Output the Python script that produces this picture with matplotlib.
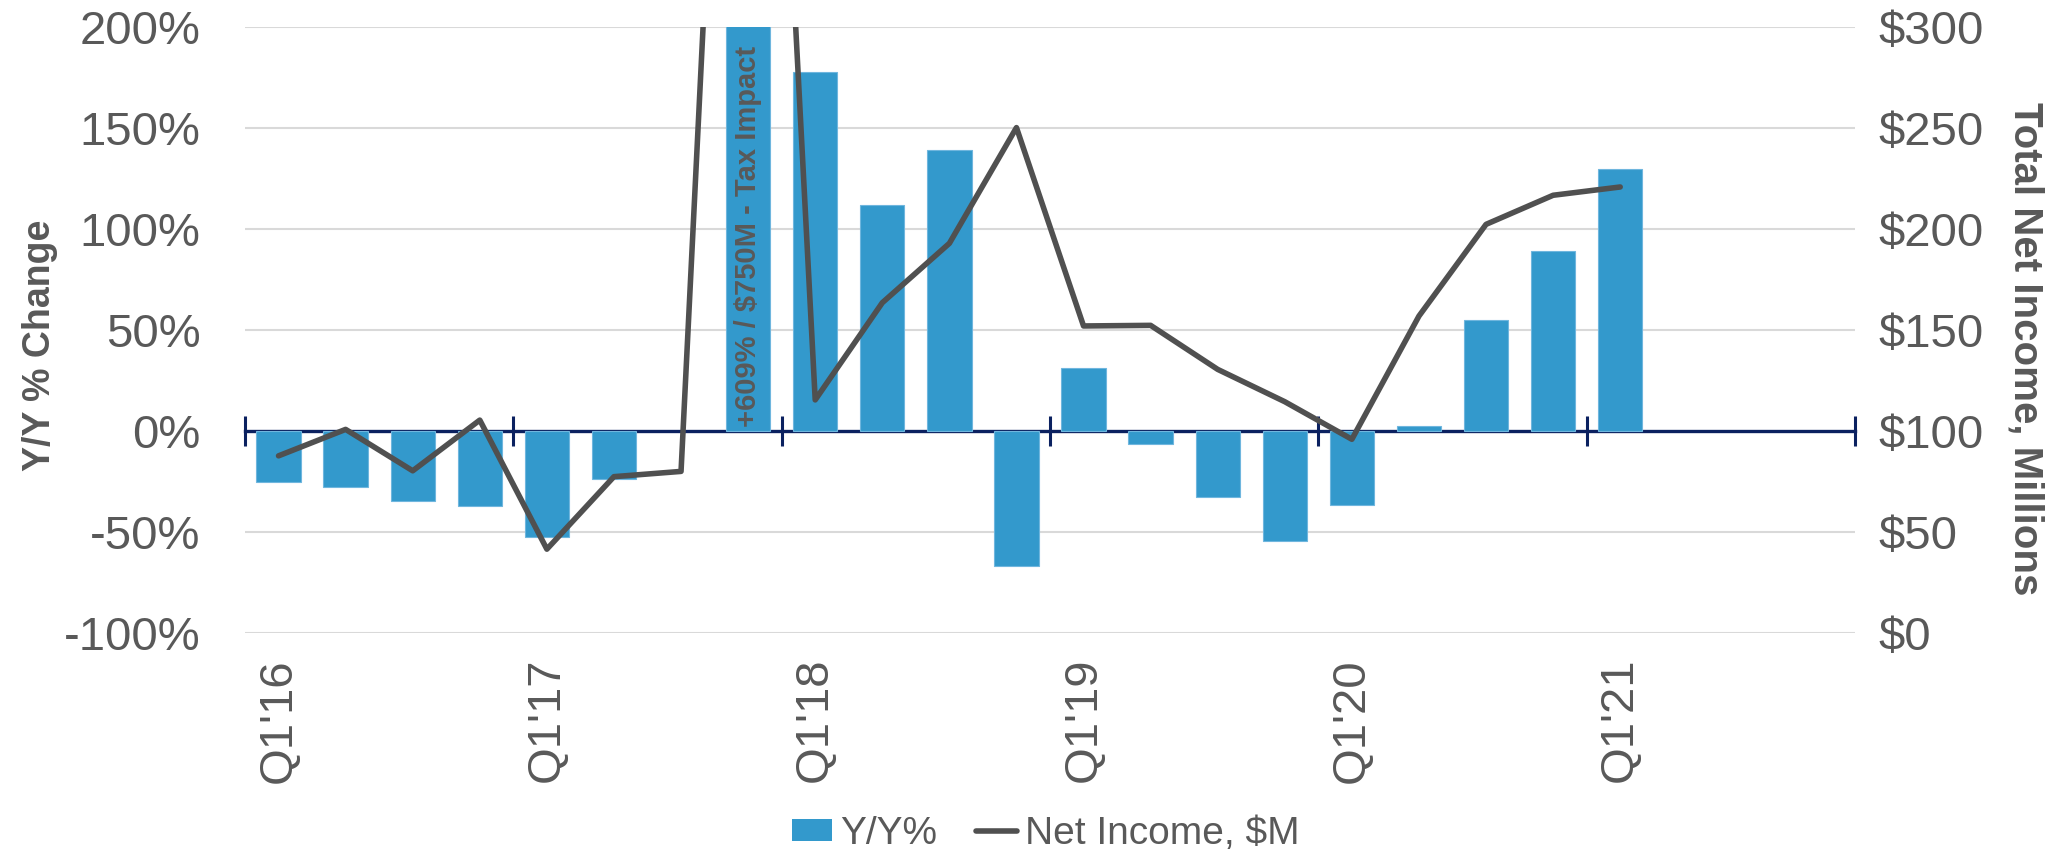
import numpy as np
import matplotlib
matplotlib.use("Agg")
import matplotlib.pyplot as plt
from matplotlib.patches import Patch
from matplotlib.lines import Line2D
from matplotlib.ticker import FuncFormatter, FixedLocator

plt.rcParams['font.family'] = ['Liberation Sans', 'DejaVu Sans']

# ---- data ----
quarters = ["Q1'16", "Q2'16", "Q3'16", "Q4'16",
            "Q1'17", "Q2'17", "Q3'17", "Q4'17",
            "Q1'18", "Q2'18", "Q3'18", "Q4'18",
            "Q1'19", "Q2'19", "Q3'19", "Q4'19",
            "Q1'20", "Q2'20", "Q3'20", "Q4'20",
            "Q1'21", "Q2'21", "Q3'21", "Q4'21"]
yoy_pct = [-25.4, -27.9, -34.9, -37.0,
           -52.3, -23.6, np.nan, 609.0,
           177.7, 111.9, 139.3, -66.8,
           31.2, -6.6, -32.5, -54.5,
           -36.8, 2.5, 55.0, 89.1,
           129.7]
net_income = [87.7, 100.8, 80.3, 105.4,
              41.5, 77.4, 80.0, 750.0,
              115.4, 163.5, 192.9, 250.2,
              152.0, 152.3, 130.5, 114.5,
              95.9, 156.9, 202.3, 216.7,
              220.8]
shown_labels = ["Q1'16", "Q1'17", "Q1'18", "Q1'19", "Q1'20", "Q1'21"]
annotation = "+609% / $750M - Tax Impact"
annot_quarter = "Q4'17"

# ---- style ----
BAR = '#3399CC'
LINE = '#505050'
NAVY = '#0B2160'
TXT = '#595959'
GRID = '#D9D9D9'

W, H = 2066, 857
fig = plt.figure(figsize=(W / 100, H / 100), dpi=100)
left, right = 245 / W, 1855 / W
top, bottom = 1 - 27 / H, 1 - 633 / H
ax = fig.add_axes([left, bottom, right - left, top - bottom])

x = np.arange(len(yoy_pct))
ax.bar(x, yoy_pct, width=0.66, color=BAR, edgecolor='#6FB6DE', linewidth=0.8, zorder=2)

ax.set_xlim(-0.5, len(quarters) - 0.5)
ax.set_ylim(-100, 200)
ax.set_yticks(np.arange(-100, 201, 50))
ax.yaxis.set_major_formatter(FuncFormatter(lambda v, p: f"{v:.0f}%"))
for v in np.arange(-100, 201, 50):
    if v != 0:
        ax.axhline(v, color=GRID, lw=1.5, zorder=0)

label_pos = [quarters.index(q) for q in shown_labels]
ax.set_xticks(label_pos)
ax.set_xticklabels(shown_labels, rotation=90, va='top', ha='center')
ax.tick_params(axis='x', length=0, pad=18, labelsize=34, labelcolor=TXT)
ax.tick_params(axis='y', length=0, pad=32, labelsize=34, labelcolor=TXT)
for s in ax.spines.values():
    s.set_visible(False)

# zero axis with boundary ticks
sec = ax.secondary_xaxis(1 / 3)
bounds = np.arange(-0.5, len(quarters), 4)
sec.xaxis.set_major_locator(FixedLocator(bounds))
sec.tick_params(axis='x', direction='inout', length=22, width=2.2, color=NAVY,
                labelbottom=False, labeltop=False, labelsize=1)
sec.spines['bottom'].set_color(NAVY)
sec.spines['bottom'].set_linewidth(2.4)
for k in ['top', 'left', 'right']:
    sec.spines[k].set_visible(False)

# annotation inside clipped bar
ai = quarters.index(annot_quarter)
ax.text(ai, 2, annotation, rotation=90, ha='center', va='bottom',
        fontsize=21, fontweight='bold', color=TXT, zorder=3)

# right axis with line
ax2 = ax.twinx()
ax2.plot(np.arange(len(net_income)), net_income, color=LINE, lw=4,
         solid_joinstyle='round', solid_capstyle='round', zorder=4)
ax2.set_ylim(0, 300)
ax2.set_yticks(np.arange(0, 301, 50))
ax2.yaxis.set_major_formatter(FuncFormatter(lambda v, p: f"${v:.0f}"))
ax2.tick_params(axis='y', length=0, pad=17, labelsize=34, labelcolor=TXT)
for s in ax2.spines.values():
    s.set_visible(False)

fig.text(40 / W, 1 - 345 / H, "Y/Y % Change", rotation=90, ha='center', va='center',
         fontsize=27, fontweight='bold', color=TXT)
fig.text(2025 / W, 1 - 349 / H, "Total Net Income, Millions", rotation=-90,
         ha='center', va='center', fontsize=29, fontweight='bold', color=TXT)

handles = [Patch(facecolor=BAR, edgecolor='none'),
           Line2D([0], [0], color=LINE, lw=4, solid_capstyle='round')]
fig.legend(handles, ["Y/Y%", "Net Income, $M"], loc='center',
           bbox_to_anchor=(0.506, 0.027), ncol=2, frameon=False,
           fontsize=28, labelcolor=TXT, handlelength=1.05, handleheight=0.5,
           handletextpad=0.2, columnspacing=1.0)

fig.savefig("out.png", dpi=100)
